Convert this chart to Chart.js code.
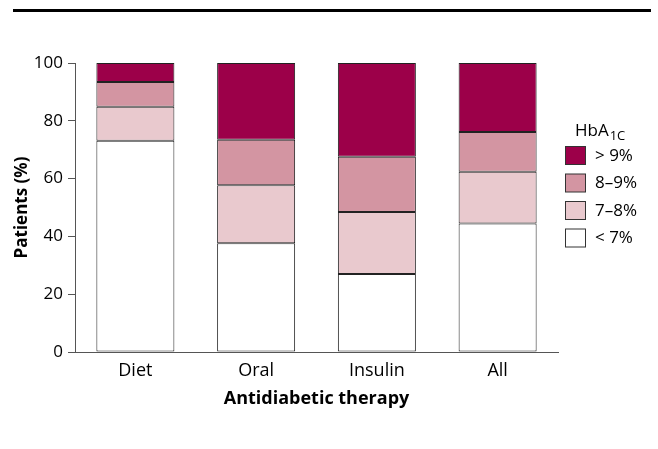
<!DOCTYPE html>
<html>
<head>
<meta charset="utf-8">
<script src="https://cdn.jsdelivr.net/npm/chart.js@4/dist/chart.umd.min.js"></script>
<style>
html,body{margin:0;padding:0;background:#fff;}
#wrap{width:658px;height:449px;position:relative;}
</style>
</head>
<body>
<div id="wrap"><canvas id="c" width="658" height="449"></canvas></div>
<script>
const categories = ["Diet", "Oral", "Insulin", "All"];
const seriesLabels = ["< 7%", "7–8%", "8–9%", "> 9%"];
const below7 = [73.1, 37.6, 27.0, 44.5];
const from7to8 = [11.8, 20.1, 21.4, 17.9];
const from8to9 = [8.5, 15.7, 19.2, 13.7];
const above9 = [6.6, 26.6, 32.4, 23.9];
const yTicks = [0, 20, 40, 60, 80, 100];
const colors = ["#ffffff", "#e9c9ce", "#d395a2", "#9c0049"];

const FONT = "'Open Sans', 'Noto Sans', sans-serif";
const seriesData = [below7, from7to8, from8to9, above9];

const datasets = seriesData.map((d, i) => ({
  label: seriesLabels[i],
  data: d,
  backgroundColor: colors[i],
  borderColor: "#222",
  borderWidth: 1,
  borderSkipped: false,
  categoryPercentage: 1.0,
  barPercentage: 0.646
}));

const decor = {
  id: "decor",
  afterDraw(chart) {
    const ctx = chart.ctx;
    ctx.save();
    ctx.fillStyle = "#000";
    ctx.fillRect(13, 9, 638, 3);
    ctx.textBaseline = "middle";
    ctx.textAlign = "left";
    ctx.font = "17px " + FONT;
    ctx.fillText("HbA", 575, 131);
    const w = ctx.measureText("HbA").width;
    ctx.font = "13px " + FONT;
    ctx.fillText("1C", 575 + w + 1, 136);
    ctx.font = "17px " + FONT;
    const order = [3, 2, 1, 0];
    order.forEach((si, k) => {
      const y = 146 + k * 27.5;
      ctx.fillStyle = colors[si];
      ctx.fillRect(565.5, y + 0.5, 20, 18);
      ctx.strokeStyle = "#333";
      ctx.lineWidth = 1;
      ctx.strokeRect(565.5, y + 0.5, 20, 18);
      ctx.fillStyle = "#000";
      ctx.fillText(seriesLabels[si], 595, y + 10);
    });
    ctx.restore();
  }
};

new Chart(document.getElementById("c"), {
  type: "bar",
  data: { labels: categories, datasets },
  options: {
    responsive: false,
    animation: false,
    layout: { padding: { left: 0, right: 100, top: 63, bottom: 35 } },
    plugins: { legend: { display: false }, tooltip: { enabled: false } },
    scales: {
      x: {
        stacked: true,
        grid: { display: false, drawTicks: false },
        border: { display: true, color: "#555", width: 1 },
        ticks: { color: "#000", font: { family: FONT, size: 18 }, padding: 8 },
        title: { display: true, text: "Antidiabetic therapy", color: "#000",
                 font: { family: FONT, size: 18, weight: "bold" }, padding: { top: 0, bottom: 4 } },
        afterFit(s) { s.height = 62; }
      },
      y: {
        stacked: true,
        min: 0, max: 100,
        afterBuildTicks(s) { s.ticks = yTicks.map(v => ({ value: v })); },
        grid: { drawOnChartArea: false, drawTicks: true, tickLength: 7, color: "#555" },
        border: { display: true, color: "#555", width: 1 },
        ticks: { color: "#000", font: { family: FONT, size: 17 }, padding: 5 },
        title: { display: true, text: "Patients (%)", color: "#000",
                 font: { family: FONT, size: 17, weight: "bold" }, padding: { top: 12, bottom: 0 } },
        afterFit(s) { s.width = 75; }
      }
    }
  },
  plugins: [decor]
});
</script>
</body>
</html>
